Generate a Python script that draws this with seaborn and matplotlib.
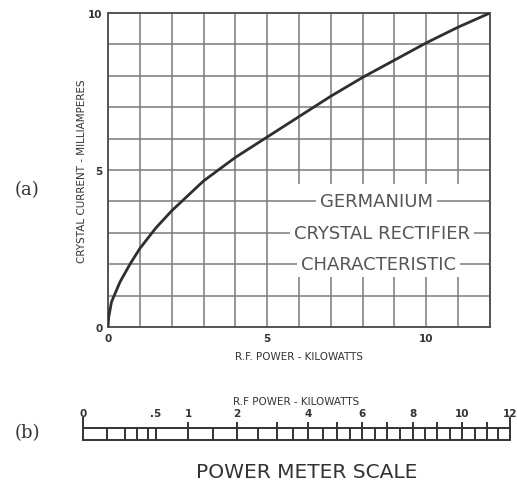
from matplotlib import pyplot as plt
from matplotlib.patches import Rectangle
import seaborn as sns
import pandas as pd

# curve: R.F. power (kW) vs crystal current (mA)
power_kw = [0, 0.02, 0.11, 0.375, 0.69, 1, 1.5, 2, 3, 4, 5, 6, 7, 8, 9, 10, 11, 12]
current_ma = [0, 0.3, 0.8, 1.43, 2.0, 2.5, 3.15, 3.7, 4.65, 5.4, 6.05, 6.7, 7.35, 7.95, 8.5, 9.05, 9.55, 10]

# power meter scale: kW marks and where they sit on the meter (mA)
scale_kw = [0, 0.1, 0.2, 0.3, 0.4, 0.5, 1, 1.5, 2, 2.5, 3, 3.5, 4, 4.5, 5, 5.5,
            6, 6.5, 7, 7.5, 8, 8.5, 9, 9.5, 10, 10.5, 11, 11.5, 12]
scale_pos = [0, 0.56, 0.98, 1.26, 1.52, 1.71, 2.46, 3.04, 3.61, 4.10, 4.54, 4.92,
             5.27, 5.62, 5.95, 6.25, 6.53, 6.84, 7.12, 7.42, 7.73, 8.01, 8.29, 8.60,
             8.88, 9.18, 9.46, 9.72, 10.0]
scale_labels = {0: "0", 0.5: ".5", 1: "1", 2: "2", 4: "4", 6: "6", 8: "8", 10: "10", 12: "12"}

# caption block inside the grid
caption_lines = ["GERMANIUM", "CRYSTAL RECTIFIER", "CHARACTERISTIC"]
caption_x = [8.44, 8.6, 8.5]
caption_y = [4, 3, 2]

df = pd.DataFrame({"power": power_kw, "current": current_ma})

sns.set_style("white")
plt.rcParams['font.family'] = ['DejaVu Sans']

ink = "#333333"
grid = "#7a7a7a"

fig = plt.figure(figsize=(5.17, 4.85), dpi=100)

# (a) characteristic curve
ax = fig.add_axes([108 / 517, 157 / 485, 382 / 517, 314 / 485])
ax.set_xlim(0, 12)
ax.set_ylim(0, 10)
ax.set_xticks(range(0, 13), minor=True)
ax.set_yticks(range(0, 11), minor=True)
ax.set_xticks([0, 5, 10])
ax.set_yticks([0, 5, 10])
ax.grid(True, which="both", color=grid, linewidth=1.1)
ax.set_axisbelow(True)
for s in ax.spines.values():
    s.set_color("#555555")
    s.set_linewidth(1.4)
ax.tick_params(which="both", length=0, pad=4, labelsize=7.5, colors=ink)
for lbl in ax.get_xticklabels() + ax.get_yticklabels():
    lbl.set_fontweight("bold")

sns.lineplot(data=df, x="power", y="current", ax=ax, color="#2e2e2e", linewidth=2.0, zorder=5)

ax.set_xlabel("R.F. POWER - KILOWATTS", fontsize=7.5, color=ink, labelpad=6)
ax.set_ylabel("CRYSTAL CURRENT - MILLIAMPERES", fontsize=7.5, color=ink, labelpad=1)

# blank out the grid behind the caption, keep the horizontal rules it sits on
ax.add_patch(Rectangle((5.55, 1.62), 6.4, 2.93, facecolor="white", edgecolor="none", zorder=1))
ax.hlines(caption_y, 5.55, 12, color=grid, linewidth=1.1, zorder=2)
box = dict(facecolor="white", edgecolor="none", pad=3)
for txt, cx, cy in zip(caption_lines, caption_x, caption_y):
    ax.text(cx, cy, txt, fontsize=13, color="#555555", ha="center", va="center", bbox=box, zorder=6)

fig.text(27 / 517, 1 - 190 / 485, "(a)", fontsize=13, family="DejaVu Serif", color=ink, ha="center", va="center")

# (b) power meter scale
ax2 = fig.add_axes([83 / 517, 44 / 485, 427 / 517, 12 / 485])
ax2.set_xlim(0, 10)
ax2.set_ylim(0, 1)
ax2.set_facecolor("none")
for side in ["left", "right"]:
    ax2.spines[side].set_visible(False)
for side in ["top", "bottom"]:
    ax2.spines[side].set_color(ink)
    ax2.spines[side].set_linewidth(1.4)
ax2.set_yticks([])

for kw, pos in zip(scale_kw, scale_pos):
    top = 1.0
    if kw == int(kw):
        top = 1.5
    if kw in (0, 12):
        top = 1.9
    ax2.vlines(pos, 0, top, color=ink, linewidth=1.4, clip_on=False)

lab_pos = [p for k, p in zip(scale_kw, scale_pos) if k in scale_labels]
lab_txt = [scale_labels[k] for k in scale_kw if k in scale_labels]
ax2.xaxis.tick_top()
ax2.set_xticks(lab_pos, lab_txt)
ax2.tick_params(axis="x", length=0, pad=7, labelsize=7.5, colors=ink)
for lbl in ax2.get_xticklabels():
    lbl.set_fontweight("bold")
ax2.xaxis.set_label_position("top")
ax2.set_xlabel("R.F POWER - KILOWATTS", fontsize=7.5, color=ink, labelpad=3)

fig.text(27 / 517, 1 - 433 / 485, "(b)", fontsize=13, family="DejaVu Serif", color=ink, ha="center", va="center")
fig.text(307 / 517, 1 - 473 / 485, "POWER METER SCALE", fontsize=14.5, color=ink, ha="center", va="center")

plt.savefig("out.png", dpi=100)
